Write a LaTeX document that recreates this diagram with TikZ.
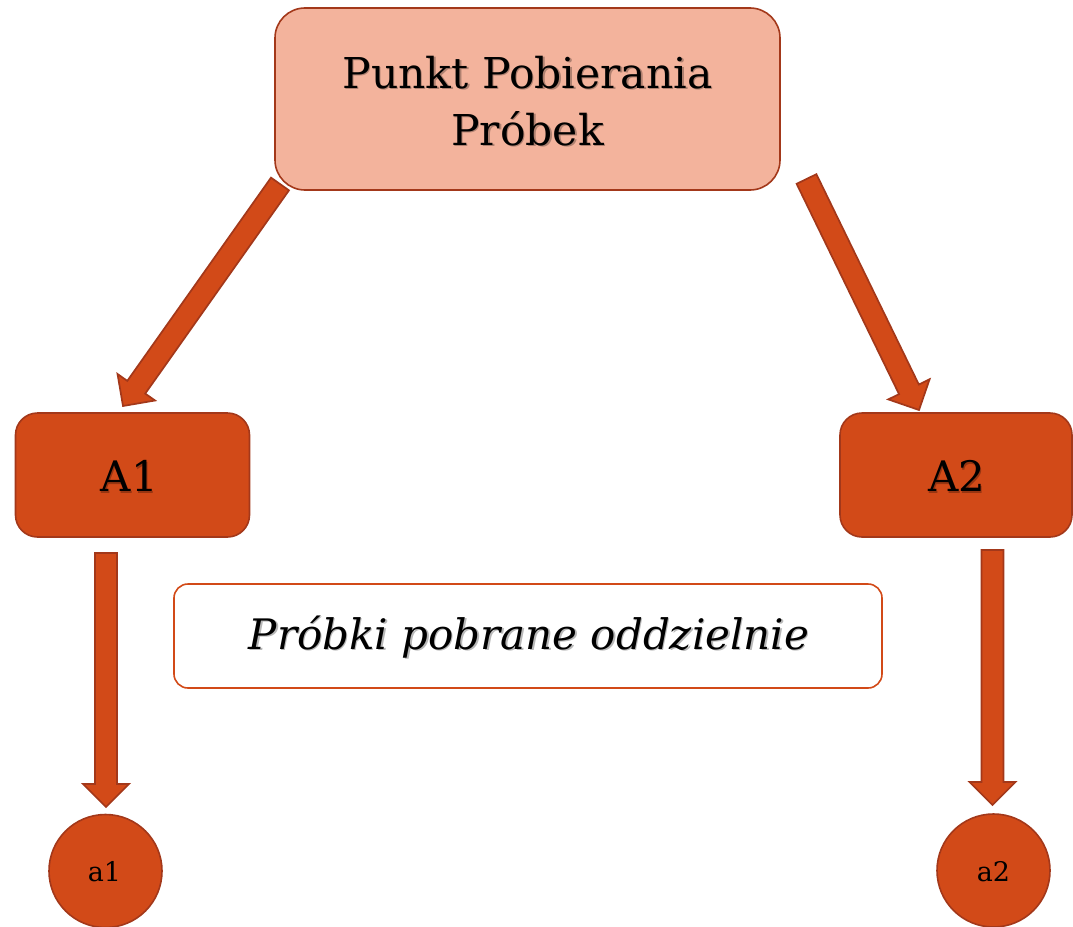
\documentclass[tikz,border=0pt]{standalone}
\usepackage{fontspec}
\setmainfont{DejaVu Serif}
\usetikzlibrary{calc}
\definecolor{dorange}{HTML}{D24A18}
\definecolor{dborder}{HTML}{A3381A}
\definecolor{lsalmon}{HTML}{F3B39C}
\tikzset{
  topbox/.style={draw=dborder, line width=1.6pt, fill=lsalmon, rounded corners=30pt,
    minimum width=505pt, minimum height=182pt, inner sep=0pt},
  abox/.style={draw=dborder, line width=1.6pt, fill=dorange, rounded corners=22pt,
    minimum width=234pt, minimum height=124pt, inner sep=0pt},
  notebox/.style={draw=dorange, line width=1.6pt, fill=white, rounded corners=14pt,
    minimum width=708pt, minimum height=104pt, inner sep=0pt},
  leaf/.style={circle, draw=dborder, line width=1.6pt, fill=dorange,
    minimum size=113pt, inner sep=0pt},
  txt/.style={inner sep=0pt, text=black},
  shad/.style={inner sep=0pt, text=black, opacity=0.28},
  barrow/.style={draw=dborder, line width=1.7pt, fill=dorange, line join=miter},
}
\newcommand\blockarrow[2]{%
  \coordinate (hb) at ($(#2)!23pt!(#1)$);
  \draw[barrow] ($(#1)!11pt!90:(#2)$) -- ($(hb)!11pt!90:(#2)$) --
    ($(hb)!23pt!90:(#2)$) -- (#2) -- ($(hb)!23pt!-90:(#2)$) --
    ($(hb)!11pt!-90:(#2)$) -- ($(#1)!11pt!-90:(#2)$) -- cycle;}
\begin{document}
\begin{tikzpicture}[x=1pt, y=-1pt]
\useasboundingbox (0,0) rectangle (1073,926);
\clip (0,0) rectangle (1073,926);

% boxes
\node[topbox] (top) at (527.5,99) {};
\node[abox] (A1) at (132.5,475) {};
\node[abox, minimum width=232pt] (A2) at (956,475) {};
\node[notebox] (note) at (528,636) {};
\node[leaf] (a1) at (105.5,871) {};
\node[leaf] (a2) at (993.5,870.5) {};

% texts
\node[shad, align=center, font=\fontsize{42.5}{57}\selectfont] (topS) at ($(top)+(1.5,3.5)$) {Punkt Pobierania\\Próbek};
\node[txt, align=center, font=\fontsize{42.5}{57}\selectfont] (topT) at ($(top)+(0,2)$) {Punkt Pobierania\\Próbek};
\node[shad, font=\fontsize{42}{50}\selectfont] (A1S) at ($(A1)+(-2,2.5)$) {A1};
\node[txt, font=\fontsize{42}{50}\selectfont] (A1T) at ($(A1)+(-3,1)$) {A1};
\node[shad, font=\fontsize{42}{50}\selectfont] (A2S) at ($(A2)+(2,2.5)$) {A2};
\node[txt, font=\fontsize{42}{50}\selectfont] (A2T) at ($(A2)+(1,1)$) {A2};
\node[shad, font=\itshape\fontsize{42}{50}\selectfont] (noteS) at ($(note)+(2.5,2.5)$) {Próbki pobrane oddzielnie};
\node[txt, font=\itshape\fontsize{42}{50}\selectfont] (noteT) at ($(note)+(1,1)$) {Próbki pobrane oddzielnie};
\node[txt, font=\fontsize{27}{30}\selectfont] (a1T) at ($(a1)+(-1,1)$) {a1};
\node[txt, font=\fontsize{27}{30}\selectfont] (a2T) at ($(a2)+(0,1)$) {a2};

% arrows
\coordinate (ls) at (280,184);
\coordinate (lt) at (123,406);
\coordinate (rs) at (806.5,179);
\coordinate (rt) at (919,410);
\coordinate (vls) at (106,553);
\coordinate (vlt) at (106,807);
\coordinate (vrs) at (992.5,550);
\coordinate (vrt) at (992.5,805);
\blockarrow{ls}{lt}
\blockarrow{rs}{rt}
\blockarrow{vls}{vlt}
\blockarrow{vrs}{vrt}
\end{tikzpicture}
\end{document}
